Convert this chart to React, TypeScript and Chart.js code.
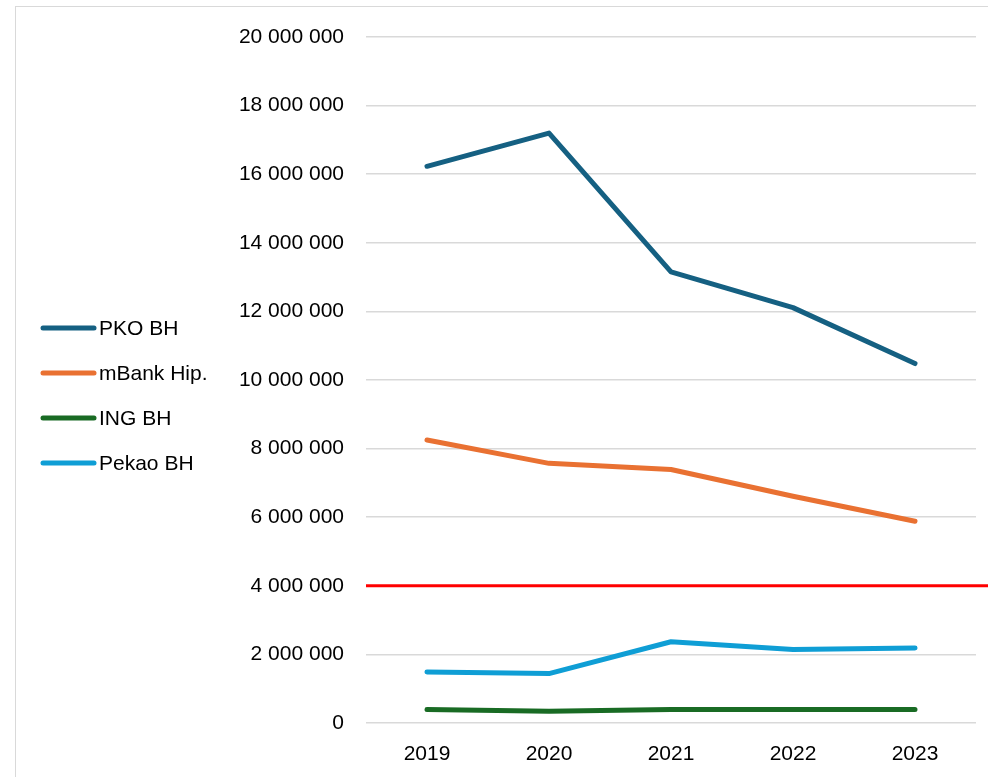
import React, { useEffect, useRef } from "react";
import { Chart, registerables } from "chart.js";

Chart.register(...registerables);

const YEARS = ["2019", "2020", "2021", "2022", "2023"];
const SERIES_NAMES = ["PKO BH", "mBank Hip.", "ING BH", "Pekao BH"];
const PKO = [16230000, 17200000, 13150000, 12110000, 10480000];
const MBANK = [8250000, 7570000, 7390000, 6610000, 5880000];
const ING = [390000, 340000, 390000, 390000, 390000];
const PEKAO = [1490000, 1440000, 2370000, 2140000, 2190000];
const COLORS = ["#156082", "#E97132", "#196B24", "#0F9ED5"];
const Y_MIN = 0;
const Y_MAX = 20000000;
const Y_STEP = 2000000;
const THRESHOLD = 4000000;

const FONT = "'Liberation Sans', Arial, sans-serif";

const fmt = (v: number) => String(Math.round(v)).replace(/\B(?=(\d{3})+(?!\d))/g, " ");

const thresholdPlugin = {
  id: "thresholdLine",
  beforeDatasetsDraw(chart: any) {
    const y = chart.scales.y.getPixelForValue(THRESHOLD);
    const ctx = chart.ctx;
    ctx.save();
    ctx.strokeStyle = "#FF0000";
    ctx.lineWidth = 3;
    ctx.beginPath();
    ctx.moveTo(chart.chartArea.left, y);
    ctx.lineTo(chart.width, y);
    ctx.stroke();
    ctx.restore();
  },
};

const legendPlugin = {
  id: "sideLegend",
  afterDraw(chart: any) {
    const ctx = chart.ctx;
    const x0 = 43;
    const x1 = 94;
    const top = 328;
    const step = 45;
    ctx.save();
    chart.data.datasets.forEach((ds: any, i: number) => {
      const y = top + i * step;
      ctx.strokeStyle = ds.borderColor;
      ctx.lineWidth = 5;
      ctx.lineCap = "round";
      ctx.beginPath();
      ctx.moveTo(x0, y);
      ctx.lineTo(x1, y);
      ctx.stroke();
      ctx.fillStyle = "#000000";
      ctx.font = `21px ${FONT}`;
      ctx.textAlign = "left";
      ctx.textBaseline = "middle";
      ctx.fillText(ds.label, 99, y + 1);
    });
    ctx.restore();
  },
};

export default function App() {
  const ref = useRef<HTMLCanvasElement | null>(null);

  useEffect(() => {
    if (!ref.current) return;
    const values = [PKO, MBANK, ING, PEKAO];
    const chart = new Chart(ref.current, {
      type: "line",
      data: {
        labels: YEARS,
        datasets: SERIES_NAMES.map((name, i) => ({
          label: name,
          data: values[i],
          borderColor: COLORS[i],
          backgroundColor: COLORS[i],
          borderWidth: 5,
          borderCapStyle: "round" as const,
          borderJoinStyle: "round" as const,
          pointRadius: 0,
          pointHoverRadius: 0,
          tension: 0,
          fill: false,
        })),
      },
      options: {
        animation: false,
        responsive: true,
        maintainAspectRatio: false,
        layout: { padding: { left: 0, right: 12, top: 37, bottom: 13 } },
        plugins: {
          legend: { display: false },
          tooltip: { enabled: false },
        },
        scales: {
          x: {
            offset: true,
            grid: { display: false, drawTicks: false },
            border: { display: false },
            ticks: {
              padding: 19,
              color: "#000000",
              font: { family: FONT, size: 21 },
            },
            afterFit(scale: any) {
              scale.height = 41;
            },
          },
          y: {
            min: Y_MIN,
            max: Y_MAX,
            grid: {
              color: "#D9D9D9",
              lineWidth: 1.5,
              drawTicks: false,
            },
            border: { display: false },
            ticks: {
              stepSize: Y_STEP,
              padding: 22,
              color: "#000000",
              font: { family: FONT, size: 21 },
              callback: (v: any) => fmt(Number(v)),
            },
            afterFit(scale: any) {
              scale.width = 366;
            },
          },
        },
      },
      plugins: [thresholdPlugin, legendPlugin],
    });
    return () => chart.destroy();
  }, []);

  return (
    <div
      style={{
        position: "fixed",
        left: 0,
        top: 0,
        width: 988,
        height: 777,
        overflow: "hidden",
        background: "#ffffff",
      }}
    >
      <div
        style={{
          position: "absolute",
          left: 15,
          top: 6,
          width: 1100,
          height: 900,
          border: "1.5px solid #D9D9D9",
          boxSizing: "border-box",
        }}
      />
      <div style={{ position: "absolute", left: 0, top: 0, width: 988, height: 777 }}>
        <canvas ref={ref} />
      </div>
    </div>
  );
}
